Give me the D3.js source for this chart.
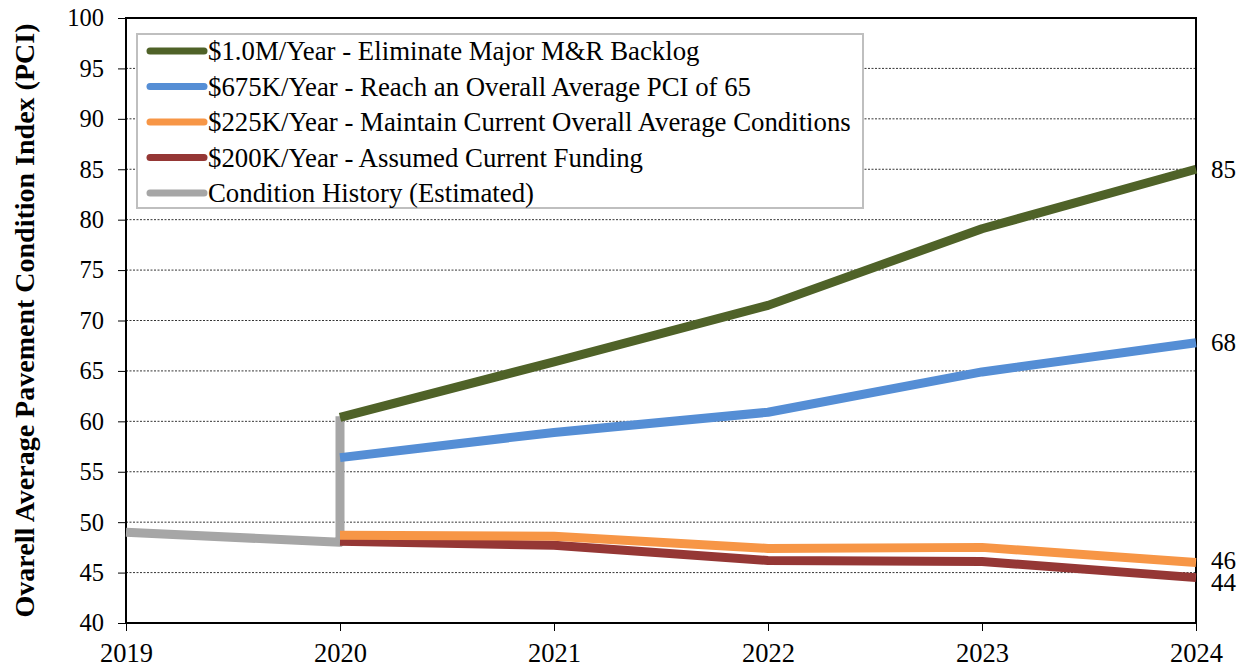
<!DOCTYPE html>
<html lang="en">
<head>
  <meta charset="UTF-8">
  <title>PCI Scenarios</title>
  <script src="https://cdn.jsdelivr.net/npm/d3@7"></script>
  <style>
    body { margin: 0; background: #fff; }
    svg text { font-family: "Liberation Serif", serif; fill: #000; }
    .axis path, .axis line { stroke: #000; }
    .grid line { stroke: #000; stroke-dasharray: 2 1.5; stroke-width: 0.8; }
  </style>
</head>
<body>
<script>
  // data
  const years = [2019, 2020, 2021, 2022, 2023, 2024];
  const yTicks = [40, 45, 50, 55, 60, 65, 70, 75, 80, 85, 90, 95, 100];
  const fund1M = [60.4, 65.9, 71.5, 79.1, 85.0];     // 2020..2024
  const fund675K = [56.4, 58.9, 60.9, 64.9, 67.8];
  const fund225K = [48.7, 48.6, 47.4, 47.5, 46.0];
  const fund200K = [48.1, 47.7, 46.2, 46.1, 44.5];
  const historyYears = [2019, 2020, 2020];
  const historyPCI = [49.0, 48.0, 60.5];
  const endLabels = ['85', '68', '46', '44'];

  const series = [
    { name: '$1.0M/Year - Eliminate Major M&R Backlog', color: '#4F6228', years: years.slice(1), values: fund1M },
    { name: '$675K/Year - Reach an Overall Average PCI of 65', color: '#558ED5', years: years.slice(1), values: fund675K },
    { name: '$225K/Year - Maintain Current Overall Average Conditions', color: '#F79646', years: years.slice(1), values: fund225K },
    { name: '$200K/Year - Assumed Current Funding', color: '#953735', years: years.slice(1), values: fund200K },
    { name: 'Condition History (Estimated)', color: '#A6A6A6', years: historyYears, values: historyPCI }
  ];

  const width = 1246, height = 670;
  const plotL = 126, plotR = 1196, plotT = 18, plotB = 623;

  const svg = d3.select('body').append('svg')
    .attr('width', width)
    .attr('height', height);

  const x = d3.scaleLinear().domain([2019, 2024]).range([plotL, plotR]);
  const y = d3.scaleLinear().domain([40, 100]).range([plotB, plotT]);

  // gridlines
  svg.append('g').attr('class', 'grid')
    .selectAll('line')
    .data(yTicks.filter(d => d > 40 && d < 100))
    .enter().append('line')
    .attr('x1', plotL).attr('x2', plotR)
    .attr('y1', d => y(d)).attr('y2', d => y(d));

  // y axis
  const gy = svg.append('g').attr('class', 'axis')
    .attr('transform', `translate(${plotL},0)`)
    .call(d3.axisLeft(y).tickValues(yTicks).tickSize(8).tickPadding(14).tickFormat(d3.format('d')));
  gy.select('.domain').remove();
  gy.selectAll('text').style('font-size', '24.5px');

  // x axis
  const gx = svg.append('g').attr('class', 'axis')
    .attr('transform', `translate(0,${plotB})`)
    .call(d3.axisBottom(x).tickValues(years).tickSize(8).tickPadding(12).tickFormat(d3.format('d')));
  gx.select('.domain').remove();
  gx.selectAll('text').style('font-size', '26.5px');

  // frame
  svg.append('rect')
    .attr('x', plotL).attr('y', plotT)
    .attr('width', plotR - plotL).attr('height', plotB - plotT)
    .attr('fill', 'none').attr('stroke', '#000').attr('stroke-width', 2);

  // lines
  const line = d3.line()
    .x(d => x(d[0]))
    .y(d => y(d[1]));

  svg.append('g').selectAll('path')
    .data(series.slice().reverse())
    .enter().append('path')
    .attr('d', s => line(s.years.map((yr, i) => [yr, s.values[i]])))
    .attr('fill', 'none')
    .attr('stroke', s => s.color)
    .attr('stroke-width', 9)
    .attr('stroke-linejoin', 'round');

  // end labels (46 and 44 sit close together as in the original)
  svg.append('g').selectAll('text')
    .data(series.slice(0, 4))
    .enter().append('text')
    .attr('x', x(2024) + 15)
    .attr('y', (s, i) => y(s.values[s.values.length - 1]) + (i === 2 ? -2 : i === 3 ? 5 : 0))
    .attr('dy', '0.35em')
    .style('font-size', '25px')
    .text((s, i) => endLabels[i]);

  // y axis title
  svg.append('text')
    .attr('transform', `translate(34,${(plotT + plotB) / 2}) rotate(-90)`)
    .attr('text-anchor', 'middle')
    .style('font-size', '28px')
    .style('font-weight', 'bold')
    .text('Ovarell Average Pavement Condition Index (PCI)');

  // legend
  const legend = svg.append('g');
  legend.append('rect')
    .attr('x', 137).attr('y', 34)
    .attr('width', 726).attr('height', 174)
    .attr('fill', '#fff').attr('stroke', '#BFBFBF').attr('stroke-width', 2);

  const items = legend.selectAll('g.item')
    .data(series)
    .enter().append('g')
    .attr('class', 'item')
    .attr('transform', (d, i) => `translate(0,${51 + i * 35.5})`);

  items.append('line')
    .attr('x1', 150).attr('x2', 204)
    .attr('stroke', d => d.color)
    .attr('stroke-width', 7)
    .attr('stroke-linecap', 'round');

  items.append('text')
    .attr('x', 208)
    .attr('dy', '0.35em')
    .style('font-size', '26.8px')
    .text(d => d.name);
</script>
</body>
</html>
